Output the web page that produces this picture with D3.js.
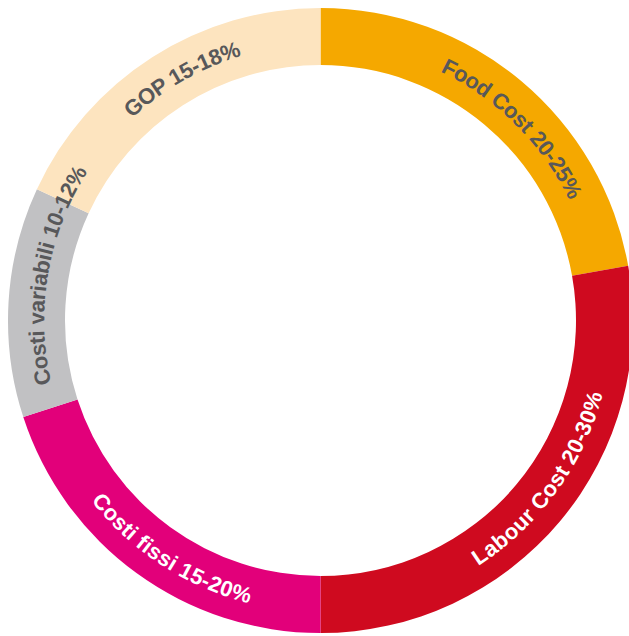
<!DOCTYPE html>
<html>
<head>
<meta charset="utf-8">
<script src="https://cdn.jsdelivr.net/npm/d3@7"></script>
<style>
  body { margin: 0; background: #fff; }
  .lbl { font-family: "Liberation Sans", Arial, sans-serif; font-weight: bold; font-size: 22px; }
</style>
</head>
<body>
<div id="chart"></div>
<script>
var labels = ["Food Cost 20-25%", "Labour Cost 20-30%", "Costi fissi 15-20%", "Costi variabili 10-12%", "GOP 15-18%"];
var shares = [22.2, 27.8, 20, 11.9, 18.1];
var colors = ["#f5a800", "#cf0a1f", "#e2007a", "#c1c1c3", "#fde4bf"];
var textColors = ["#58585a", "#ffffff", "#ffffff", "#58585a", "#58585a"];

var width = 629;
var height = 636;
var cx = 320.5, cy = 320.5;
var outerR = 312.5, innerR = 255.5;
var midR = (outerR + innerR) / 2;

// label nudges in degrees from the slice middle, and reading direction
var nudge = [5, -4, -3, 6.3, 2.8];
var flip = [false, true, true, false, false];

var svg = d3.select("#chart")
  .append("svg")
  .attr("width", width)
  .attr("height", height);

var g = svg.append("g")
  .attr("transform", `translate(${cx},${cy})`);

var pie = d3.pie().sort(null).value(function(d) { return d; });
var arcs = pie(shares);

var arc = d3.arc()
  .innerRadius(innerR)
  .outerRadius(outerR);

g.selectAll("path.slice")
  .data(arcs)
  .enter()
  .append("path")
    .attr("class", "slice")
    .attr("d", arc)
    .attr("fill", function(d, i) { return colors[i]; });

function pt(a) {
  return [midR * Math.sin(a), -midR * Math.cos(a)];
}

var defs = svg.append("defs");
var span = 70 * Math.PI / 180;

arcs.forEach(function(d, i) {
  var mid = (d.startAngle + d.endAngle) / 2 + nudge[i] * Math.PI / 180;
  var a0 = mid - span, a1 = mid + span;
  var p0 = pt(a0), p1 = pt(a1);
  var dPath = flip[i]
    ? `M${p1[0]},${p1[1]} A${midR},${midR} 0 0 0 ${p0[0]},${p0[1]}`
    : `M${p0[0]},${p0[1]} A${midR},${midR} 0 0 1 ${p1[0]},${p1[1]}`;
  defs.append("path")
    .attr("id", "lp" + i)
    .attr("d", dPath)
    .attr("transform", `translate(${cx},${cy})`);
});

svg.selectAll("text.lbl")
  .data(labels)
  .enter()
  .append("text")
    .attr("class", "lbl")
    .attr("dy", "0.35em")
    .attr("fill", function(d, i) { return textColors[i]; })
  .append("textPath")
    .attr("href", function(d, i) { return "#lp" + i; })
    .attr("startOffset", "50%")
    .attr("text-anchor", "middle")
    .text(function(d) { return d; });
</script>
</body>
</html>
